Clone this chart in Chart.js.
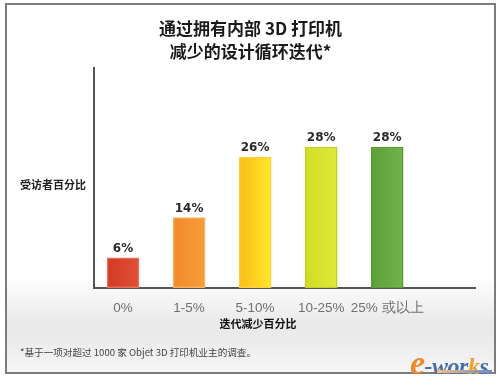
<!DOCTYPE html>
<html>
<head>
<meta charset="utf-8">
<script src="https://cdn.jsdelivr.net/npm/chart.js@4.4.1/dist/chart.umd.min.js"></script>
<style>
  html, body { margin: 0; padding: 0; background: #ffffff; }
  #wrap { position: relative; width: 501px; height: 383px; overflow: hidden; background: #fff; }
  #frame { position: absolute; left: 5px; top: 3px; width: 487px; height: 367px;
           border: 2px solid #7c7c7c;
           background: linear-gradient(to bottom, #ffffff 0%, #ffffff 74%, #e9e9e9 87%, #ececec 92%, #f6f6f6 100%); }
  canvas { position: absolute; left: 0; top: 0; }
  .txt { position: absolute; font-family: "Noto Sans CJK SC", "Noto Sans", sans-serif; white-space: nowrap; }
  #title { left: 0; width: 501px; top: 16px; text-align: center; font-size: 17px; font-weight: bold; line-height: 23px; color: #1a1a1a; }
  #ylab { left: 20px; top: 176px; font-size: 11px; font-weight: bold; color: #222; }
  #xlab { left: 208px; width: 100px; text-align: center; top: 315px; font-size: 11px; font-weight: bold; color: #111; }
  #foot { left: 20px; top: 345px; font-size: 9.6px; color: #444; }
  #logo { left: 410px; top: 344px; font-family: "Liberation Serif", serif; font-style: italic; font-weight: bold; font-size: 24px; color: #4a6fa8; letter-spacing: -0.5px; }
  #logo .e { color: #f08a30; font-size: 34px; }
  #logo .k { color: #f0a030; }
  #logoline { position: absolute; left: 437px; top: 370px; width: 55px; height: 3px; background: linear-gradient(to right, #f0c080, #6a8cc8); }
</style>
</head>
<body>
<div id="wrap">
  <div id="frame"></div>
  <canvas id="c" width="501" height="383"></canvas>
  <div class="txt" id="title">通过拥有内部 3D 打印机<br>减少的设计循环迭代*</div>
  <div class="txt" id="ylab">受访者百分比</div>
  <div class="txt" id="xlab">迭代减少百分比</div>
  <div class="txt" id="foot">*基于一项对超过 1000 家 Objet 3D 打印机业主的调查。</div>
  <div class="txt" id="logo"><span class="e">e</span>-wor<span class="k">k</span>s</div>
  <div id="logoline"></div>
</div>
<script>
const categories = ["0%", "1-5%", "5-10%", "10-25%", "25% 或以上"];
const values = [6, 14, 26, 28, 28];
const valueLabels = ["6%", "14%", "26%", "28%", "28%"];
const barColorsLeft = ["#d23a24", "#f28a2a", "#fbbc18", "#cfdc24", "#5c9e38"];
const barColorsRight = ["#e05038", "#f79c3a", "#fde82c", "#e0ea3a", "#72b44a"];
const barBorders = ["#e8705a", "#f8b060", "#f6d040", "#c4d020", "#5a9a36"];

const points = values.map((v, i) => ({ x: i, y: v }));

const valueLabelPlugin = {
  id: 'valueLabels',
  afterDatasetsDraw(chart) {
    const ctx = chart.ctx;
    const meta = chart.getDatasetMeta(0);
    ctx.save();
    ctx.font = 'bold 12px "DejaVu Sans", sans-serif';
    ctx.fillStyle = '#2a2a2a';
    ctx.textAlign = 'center';
    ctx.textBaseline = 'alphabetic';
    meta.data.forEach((el, i) => {
      ctx.fillText(valueLabels[i], el.x, el.y - 6);
    });
    ctx.restore();
  }
};

new Chart(document.getElementById('c'), {
  type: 'bar',
  data: {
    datasets: [{
      data: points,
      barThickness: 32,
      borderWidth: 1.5,
      borderSkipped: false,
      borderColor: barBorders,
      backgroundColor: (context) => {
        const chart = context.chart;
        const i = context.dataIndex;
        if (!chart.chartArea || i === undefined) return barColorsLeft[i || 0];
        const xs = chart.scales.x;
        const cx = xs.getPixelForValue(i);
        const g = chart.ctx.createLinearGradient(cx - 16, 0, cx + 16, 0);
        g.addColorStop(0, barColorsLeft[i]);
        g.addColorStop(1, barColorsRight[i]);
        return g;
      }
    }]
  },
  options: {
    responsive: false,
    animation: false,
    layout: { padding: { left: 94, right: 26, top: 68, bottom: 65 } },
    plugins: { legend: { display: false }, title: { display: false }, tooltip: { enabled: false } },
    scales: {
      x: {
        type: 'linear',
        offset: false,
        min: -0.44,
        max: 5.33,
        afterFit: (s) => { s.height = 30; },
        afterBuildTicks: (s) => { s.ticks = categories.map((_, i) => ({ value: i })); },
        grid: { display: false, offset: false },
        border: { display: true, color: '#555555', width: 2 },
        ticks: {
          padding: 4,
          color: '#707070',
          font: { family: '"Liberation Sans", sans-serif', size: 13.5 },
          callback: (v) => categories[v] !== undefined ? categories[v] : ''
        }
      },
      y: {
        min: 0,
        max: 43.7,
        afterFit: (s) => { s.width = 0; },
        grid: { display: false },
        border: { display: true, color: '#555555', width: 2 },
        ticks: { display: false }
      }
    }
  },
  plugins: [valueLabelPlugin]
});
</script>
</body>
</html>
